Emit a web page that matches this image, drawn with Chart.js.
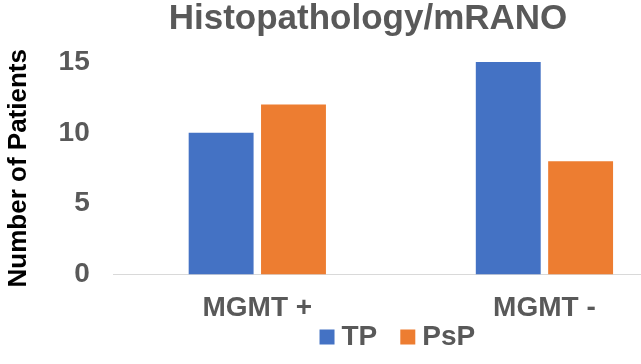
<!DOCTYPE html>
<html>
<head>
<meta charset="utf-8">
<script src="https://cdn.jsdelivr.net/npm/chart.js@4"></script>
<style>
  html, body { margin: 0; padding: 0; overflow: hidden; background: #fff; }
  #wrap { width: 736px; height: 364px; }
</style>
</head>
<body>
<div id="wrap"><canvas id="myChart"></canvas></div>
<script>
var categories = ['MGMT +', 'MGMT -'];
var tpValues = [10, 15];
var pspValues = [12, 8];
var yTicks = [0, 5, 10, 15];

var grayText = '#595959';
var fontFamily = "'Liberation Sans', Arial, sans-serif";

// legend sits right under the category labels, so stretch its box upwards after layout
var legendNudge = {
  id: 'legendNudge',
  afterLayout: function (chart) {
    var lg = chart.legend;
    lg.top -= 48.5;
    lg.height += 48.5;
  }
};

var ctx = document.getElementById('myChart').getContext('2d');
var myChart = new Chart(ctx, {
    type: 'bar',
    data: {
      labels: categories,
      datasets: [{
          label: 'TP',
          data: tpValues,
          backgroundColor: '#4472C4',
          borderWidth: 0,
          barPercentage: 0.897,
          categoryPercentage: 0.504
        }, {
          label: 'PsP',
          data: pspValues,
          backgroundColor: '#ED7D31',
          borderWidth: 0,
          barPercentage: 0.897,
          categoryPercentage: 0.504
        }
      ]
    },
    plugins: [legendNudge],
    options: {
      responsive: true,
      maintainAspectRatio: false,
      animation: false,
      layout: {
        padding: { left: 0, right: 0, top: 0, bottom: 3 }
      },
      plugins: {
          title: {
              display: true,
              text: 'Histopathology/mRANO',
              color: grayText,
              padding: { top: 2, bottom: 25 },
              font: { family: fontFamily, size: 35, weight: 'bold', lineHeight: 1 }
          },
          legend: {
              position: 'bottom',
              fullSize: false,
              maxHeight: 19.5,
              labels: {
                  usePointStyle: true,
                  pointStyle: 'rect',
                  boxWidth: 1,
                  boxHeight: 15,
                  padding: 30,
                  color: grayText,
                  font: { family: fontFamily, size: 28, weight: 'bold' }
              }
          },
          tooltip: { enabled: false }
      },
      scales: {
        x: {
          grid: { display: false, drawTicks: false },
          border: { display: true, color: '#D9D9D9', width: 1 },
          ticks: {
            color: grayText,
            padding: 19.5,
            font: { family: fontFamily, size: 28, weight: 'bold', lineHeight: 1 }
          }
        },
        y: {
          min: 0,
          max: 15,
          afterBuildTicks: function (scale) {
            scale.ticks = yTicks.map(function (v) { return { value: v }; });
          },
          grid: { display: false, drawTicks: false },
          border: { display: false },
          ticks: {
            color: grayText,
            padding: 24,
            font: { family: fontFamily, size: 28, weight: 'bold' }
          },
          title: {
            display: true,
            text: 'Number of Patients',
            color: '#000000',
            padding: { top: 3.4, bottom: 0 },
            font: { family: fontFamily, size: 26, weight: 'bold' }
          }
        },
        y2: {
          position: 'right',
          grid: { display: false, drawTicks: false },
          border: { display: false },
          ticks: { display: false },
          afterFit: function (scale) { scale.width = 48; }
        }
      }
    }
});
</script>
</body>
</html>
